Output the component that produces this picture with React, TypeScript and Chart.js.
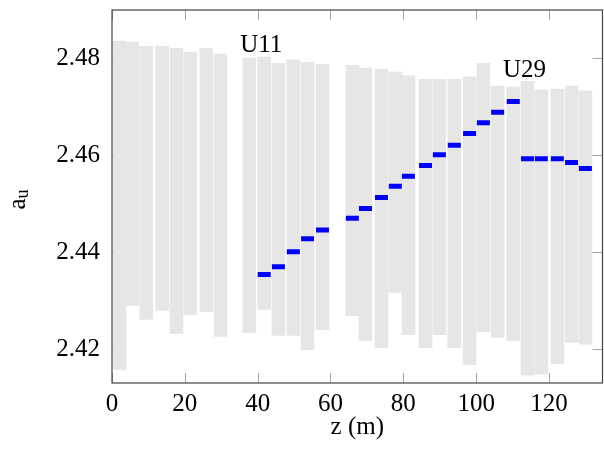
import React, { useEffect, useRef } from "react";
import { Chart, registerables } from "chart.js";

Chart.register(...registerables);

// undulator positions (m)
const zPositions = [
  2.1, 5.6, 9.4, 13.8, 17.7, 21.5, 25.9, 29.8, 37.7, 41.8, 45.7, 49.8, 53.7, 57.8,
  66.0, 69.6, 74.0, 77.8, 81.4, 86.1, 89.9, 94.0, 98.2, 102.0, 105.9, 110.2, 114.1,
  117.9, 122.3, 126.2, 130.0,
];
// tuning range of each undulator
const rangeHigh = [
  2.4836, 2.4834, 2.4825, 2.4825, 2.4821, 2.4813, 2.4821, 2.4809, 2.4801, 2.4803,
  2.479, 2.4797, 2.4792, 2.4788, 2.4786, 2.478, 2.4778, 2.4772, 2.4764, 2.4757,
  2.4757, 2.4757, 2.4762, 2.479, 2.4743, 2.4741, 2.4753, 2.4735, 2.4737, 2.4743,
  2.4733,
];
const rangeLow = [
  2.4158, 2.429, 2.4261, 2.428, 2.4232, 2.4271, 2.4277, 2.4226, 2.4234, 2.4282,
  2.4228, 2.4228, 2.4199, 2.424, 2.4269, 2.4218, 2.4203, 2.4317, 2.423, 2.4203,
  2.423, 2.4203, 2.4168, 2.4236, 2.4224, 2.4218, 2.4146, 2.4148, 2.417, 2.4214,
  2.421,
];
// chosen a_u settings (null = undulator not used)
const auValues = [
  null, null, null, null, null, null, null, null, null,
  2.4354, 2.437, 2.4401, 2.4428, 2.4446, 2.447, 2.449, 2.4513, 2.4536, 2.4557,
  2.4579, 2.4601, 2.4621, 2.4645, 2.4667, 2.4689, 2.4711, 2.4593, 2.4593, 2.4593,
  2.4585, 2.4573,
];
const xTicks = [0, 20, 40, 60, 80, 100, 120];
const yTicks = [2.42, 2.44, 2.46, 2.48];
const noteTexts = ["U11", "U29"];
const noteZ = [41.0, 113.3];
const noteAu = [2.4813, 2.4762];

const FONT = "'Liberation Serif', 'DejaVu Serif', serif";

const decorPlugin = {
  id: "decor",
  beforeDatasetsDraw(chart: any) {
    const { ctx, chartArea: a, scales } = chart;
    ctx.save();
    ctx.strokeStyle = "#a6a6a6";
    ctx.lineWidth = 1;
    const L = 10;
    for (const v of xTicks) {
      const px = Math.round(scales.x.getPixelForValue(v)) + 0.5;
      ctx.beginPath();
      ctx.moveTo(px, a.bottom);
      ctx.lineTo(px, a.bottom - L);
      ctx.moveTo(px, a.top);
      ctx.lineTo(px, a.top + L);
      ctx.stroke();
    }
    for (const v of yTicks) {
      const py = Math.round(scales.y.getPixelForValue(v)) + 0.5;
      ctx.beginPath();
      ctx.moveTo(a.left, py);
      ctx.lineTo(a.left + L, py);
      ctx.moveTo(a.right, py);
      ctx.lineTo(a.right - L, py);
      ctx.stroke();
    }
    ctx.restore();
  },
  afterDraw(chart: any) {
    const { ctx, chartArea: a, scales } = chart;
    ctx.save();
    ctx.strokeStyle = "#444444";
    ctx.lineWidth = 1.2;
    ctx.strokeRect(a.left, a.top, a.right - a.left, a.bottom - a.top);

    ctx.fillStyle = "#000";
    ctx.textBaseline = "alphabetic";
    ctx.textAlign = "center";
    ctx.font = `25px ${FONT}`;
    noteTexts.forEach((t, i) => {
      ctx.fillText(t, scales.x.getPixelForValue(noteZ[i]), scales.y.getPixelForValue(noteAu[i]));
    });

    // x title
    ctx.fillText("z (m)", (a.left + a.right) / 2, 434);

    // y title a_u
    ctx.translate(25, (a.top + a.bottom) / 2 + 3);
    ctx.rotate(-Math.PI / 2);
    ctx.textAlign = "left";
    ctx.font = `25px ${FONT}`;
    const wA = ctx.measureText("a").width;
    ctx.font = `18px ${FONT}`;
    const wU = ctx.measureText("u").width;
    const start = -(wA + wU) / 2;
    ctx.font = `25px ${FONT}`;
    ctx.fillText("a", start, 0);
    ctx.font = `18px ${FONT}`;
    ctx.fillText("u", start + wA, 3);
    ctx.restore();
  },
};

export default function App() {
  const ref = useRef<HTMLCanvasElement>(null);
  useEffect(() => {
    if (!ref.current) return;
    document.documentElement.style.overflow = "hidden";
    document.body.style.margin = "0";
    document.body.style.overflow = "hidden";
    const barData = zPositions.map((z, i) => ({ x: z, y: [rangeLow[i], rangeHigh[i]] }));
    const auData = zPositions
      .map((z, i) => ({ x: z, y: auValues[i] }))
      .filter((p) => p.y !== null);
    const tickFont = { family: FONT, size: 25 };
    const chart = new Chart(ref.current, {
      type: "bar",
      data: {
        datasets: [
          {
            type: "scatter",
            data: auData as any,
            pointStyle: "line",
            pointRadius: 6.5,
            pointBorderWidth: 5,
            borderColor: "#0000ff",
            backgroundColor: "#0000ff",
            pointHoverRadius: 6.5,
            order: 0,
          } as any,
          {
            type: "bar",
            data: barData as any,
            backgroundColor: "rgb(230,230,230)",
            borderWidth: 0,
            barThickness: 13,
            order: 1,
          } as any,
        ],
      },
      options: {
        animation: false,
        responsive: false,
        devicePixelRatio: 1,
        layout: { autoPadding: false, padding: { top: 10, right: 1.5, left: 0, bottom: 0 } },
        plugins: { legend: { display: false }, tooltip: { enabled: false } },
        scales: {
          x: {
            type: "linear",
            min: 0,
            max: 134.7,
            offset: false,
            grid: { display: false, drawTicks: false },
            border: { display: false },
            ticks: { font: tickFont, color: "#000", padding: 6, maxRotation: 0, callback: (v: any) => String(v) },
            afterBuildTicks: (s: any) => {
              s.ticks = xTicks.map((v) => ({ value: v }));
            },
            afterFit: (s: any) => {
              s.height = 70;
              s.paddingLeft = 0;
              s.paddingRight = 0;
              s.paddingTop = 0;
              s.paddingBottom = 0;
            },
          },
          y: {
            type: "linear",
            min: 2.413,
            max: 2.49,
            grid: { display: false, drawTicks: false },
            border: { display: false },
            ticks: { font: tickFont, color: "#000", padding: 12, callback: (v: any) => Number(v).toFixed(2) },
            afterBuildTicks: (s: any) => {
              s.ticks = yTicks.map((v) => ({ value: v }));
            },
            afterFit: (s: any) => {
              s.width = 112;
              s.paddingLeft = 0;
              s.paddingRight = 0;
              s.paddingTop = 0;
              s.paddingBottom = 0;
            },
          },
        },
      },
      plugins: [decorPlugin],
    });
    return () => chart.destroy();
  }, []);
  return (
    <div style={{ position: "fixed", left: 0, top: 0, width: 604, height: 453, background: "#fff", overflow: "hidden" }}>
      <canvas ref={ref} width={604} height={453} style={{ display: "block", width: 604, height: 453 }} />
    </div>
  );
}
